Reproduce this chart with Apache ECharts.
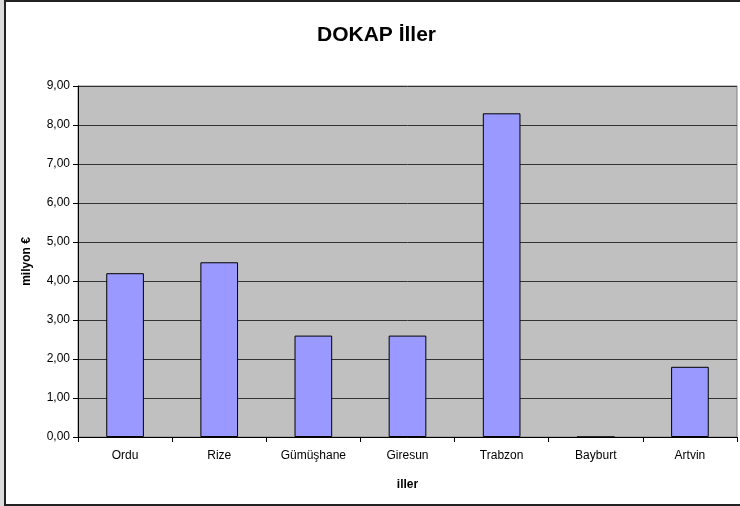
<!DOCTYPE html>
<html>
<head>
<meta charset="utf-8">
<script src="https://cdn.jsdelivr.net/npm/echarts@6/dist/echarts.min.js"></script>
<style>
html,body{margin:0;padding:0;}
body{width:740px;height:506px;overflow:hidden;background:#dcdcdc;}
#c{width:740px;height:506px;}
</style>
</head>
<body>
<div id="c"></div>
<script>
var categories = ['Ordu', 'Rize', 'Gümüşhane', 'Giresun', 'Trabzon', 'Bayburt', 'Artvin'];
var values = [4.20, 4.48, 2.60, 2.60, 8.30, 0, 1.80];
var titleText = 'DOKAP İller';
var yName = 'milyon €';
var xName = 'iller';

var chart = echarts.init(document.getElementById('c'), null, {renderer: 'canvas'});
chart.setOption({
  animation: false,
  backgroundColor: 'transparent',
  graphic: [{
    type: 'rect', z: -10, silent: true,
    shape: {x: 5, y: 1, width: 760, height: 504},
    style: {fill: '#ffffff', stroke: '#222222', lineWidth: 2}
  }],
  title: {
    text: titleText, left: 312, top: 20,
    textStyle: {fontFamily: 'Liberation Sans, Arial', fontSize: 21, fontWeight: 'bold', color: '#000'}
  },
  grid: {
    left: 78, top: 86, right: 3, bottom: 69,
    show: true, backgroundColor: '#c0c0c0', borderColor: '#808080', borderWidth: 1
  },
  xAxis: {
    type: 'category', data: categories,
    name: xName, nameLocation: 'middle', nameGap: 42,
    nameTextStyle: {fontFamily: 'Liberation Sans, Arial', fontSize: 12, fontWeight: 'bold', color: '#000'},
    axisLine: {lineStyle: {color: '#000', width: 1}},
    axisTick: {show: true, alignWithLabel: false, length: 5, lineStyle: {color: '#000'}},
    axisLabel: {fontFamily: 'Liberation Sans, Arial', fontSize: 12, color: '#000', margin: 13}
  },
  yAxis: {
    type: 'value', min: 0, max: 9, interval: 1,
    name: yName, nameLocation: 'middle', nameGap: 45, nameRotate: 90,
    nameTextStyle: {fontFamily: 'Liberation Sans, Arial', fontSize: 12, fontWeight: 'bold', color: '#000'},
    axisLine: {show: true, lineStyle: {color: '#000', width: 1}},
    axisTick: {show: true, length: 5, lineStyle: {color: '#000'}},
    axisLabel: {
      fontFamily: 'Liberation Sans, Arial', fontSize: 12, color: '#000', margin: 8,
      formatter: function (v) { return v.toFixed(2).replace('.', ','); }
    },
    splitLine: {show: true, lineStyle: {color: '#333333', width: 1}}
  },
  series: [{
    type: 'bar', data: values, barWidth: '40%',
    itemStyle: {color: '#9999ff', borderColor: '#000', borderWidth: 1}
  }]
});
</script>
</body>
</html>
